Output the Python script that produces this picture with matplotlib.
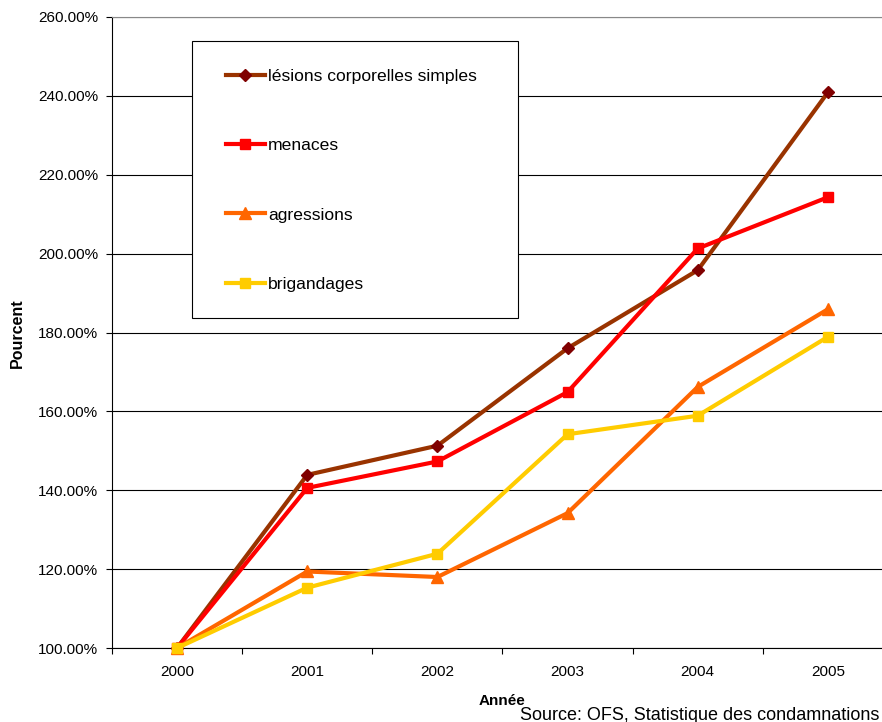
import matplotlib
matplotlib.use("Agg")
from matplotlib import pyplot as plt
from matplotlib.patches import Rectangle
from matplotlib.ticker import FuncFormatter, FixedLocator

plt.rcParams['font.family'] = ['Liberation Sans', 'DejaVu Sans']

years = ['2000', '2001', '2002', '2003', '2004', '2005']
lesions = [100.0, 143.9, 151.3, 176.0, 195.8, 240.9]
menaces = [100.0, 140.6, 147.3, 164.9, 201.3, 214.3]
agressions = [100.0, 119.4, 118.0, 134.2, 166.2, 185.9]
brigandages = [100.0, 115.3, 123.9, 154.2, 158.9, 178.9]

W, H = 882, 722
fig = plt.figure(figsize=(W / 100, H / 100), dpi=100)
ax = fig.add_axes([112 / W, 1 - 648 / H, (893 - 112) / W, (648 - 17) / H])

x = list(range(len(years)))
series = [
    ('lésions corporelles simples', lesions, '#993300', 'D', '#800000', 6),
    ('menaces', menaces, '#FF0000', 's', '#FF0000', 7),
    ('agressions', agressions, '#FF6600', '^', '#FF6600', 8),
    ('brigandages', brigandages, '#FFCC00', 's', '#FFCC00', 7),
]
for label, vals, col, mk, mcol, ms in series:
    ax.plot(x, vals, color=col, lw=3, marker=mk, markersize=ms,
            markerfacecolor=mcol, markeredgecolor=mcol, label=label,
            zorder=4, clip_on=False)

ax.set_xlim(-0.5, 5.5)
ax.set_ylim(100, 260)
ax.set_yticks(range(100, 261, 20))
ax.yaxis.set_major_formatter(FuncFormatter(lambda v, p: f'{v:.2f}%'))
ax.grid(axis='y', color='black', lw=0.8)
ax.set_axisbelow(True)

ax.set_xticks(x)
ax.set_xticklabels(years)
ax.xaxis.set_minor_locator(FixedLocator([i - 0.5 for i in range(7)]))
ax.tick_params(axis='x', which='major', length=0, pad=12, labelsize=11)
ax.tick_params(axis='x', which='minor', length=4, direction='out', width=0.8)
ax.tick_params(axis='y', length=4, width=0.8, pad=6, labelsize=11)

ax.spines['right'].set_visible(False)
ax.spines['top'].set_color('#888888')

# legend box
box = Rectangle((192 / W, 1 - 318 / H), (518 - 192) / W, (318 - 41) / H,
                transform=fig.transFigure, facecolor='white', edgecolor='black',
                lw=0.8, zorder=5)
fig.patches.append(box)
leg = fig.legend(loc='upper left', bbox_to_anchor=(226 / W, 1 - 69 / H),
                 frameon=False, fontsize=12.6, borderpad=0, borderaxespad=0,
                 handlelength=2.2, handletextpad=0.2, labelspacing=3.08)
leg.set_zorder(6)

fig.text(17 / W, 1 - 333 / H, 'Pourcent', rotation=90, ha='center', va='center',
         fontsize=11.5, fontweight='bold')
fig.text(479 / W, 1 - 701 / H, 'Année', ha='left', va='center',
         fontsize=11, fontweight='bold')
fig.text(520 / W, 1 - 715 / H, 'Source: OFS, Statistique des condamnations',
         ha='left', va='center', fontsize=13)

fig.savefig('out.png', dpi=100)
